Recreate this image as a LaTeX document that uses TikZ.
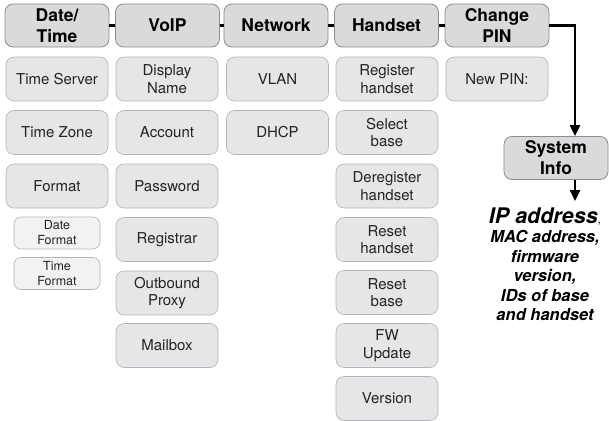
\documentclass[tikz,border=0pt]{standalone}
\usepackage{fontspec}
\setmainfont{TeX Gyre Heros}
\usetikzlibrary{arrows.meta}
\definecolor{hdrfill}{RGB}{218,218,221}
\definecolor{hdrdraw}{RGB}{140,140,144}
\definecolor{subfill}{RGB}{230,230,233}
\definecolor{subdraw}{RGB}{180,180,184}
\definecolor{smfill}{RGB}{242,242,244}
\definecolor{txt}{RGB}{35,35,35}
\begin{document}
\begin{tikzpicture}[x=1pt,y=-1pt,
  hdr/.style={draw=hdrdraw,fill=hdrfill,rounded corners=8pt,line width=0.8pt,
    minimum width=104pt,minimum height=43pt,align=center,inner sep=1pt,
    font=\fontsize{17.5}{21}\selectfont\bfseries,text=black},
  sub/.style={draw=subdraw,fill=subfill,rounded corners=8pt,line width=0.6pt,
    minimum width=102pt,minimum height=44pt,align=center,inner sep=1pt,
    font=\fontsize{15}{17.5}\selectfont,text=txt},
  small/.style={draw=subdraw,fill=smfill,rounded corners=7pt,line width=0.6pt,
    minimum width=86pt,minimum height=32pt,align=center,inner sep=0pt,
    font=\fontsize{12.5}{15}\selectfont,text=txt},
  link/.style={line width=2.8pt,black},
  arr/.style={line width=2.4pt,black,-{Triangle[length=11pt,width=10pt]}},
  info/.style={align=center,font=\fontsize{16.5}{19.5}\selectfont\bfseries\itshape,text=black}
]
\useasboundingbox (0,0) rectangle (609,420);
% headers
\node[hdr] (dt) at (57,25.5) {Date/\\Time};
\node[hdr] (voip) at (167.5,25.5) {VoIP};
\node[hdr] (net) at (276,25.5) {Network};
\node[hdr] (hs) at (386.5,25.5) {Handset};
\node[hdr] (pin) at (497,25.5) {Change\\PIN};
\node[hdr] (sys) at (556,158) {System\\Info};
\draw[link] (dt) -- (voip);
\draw[link] (voip) -- (net);
\draw[link] (net) -- (hs);
\draw[link] (hs) -- (pin);
\coordinate (bend) at (575,25.5);
\draw[arr] (pin.east) -- (bend) -- (sys.north -| bend);
\coordinate (infotop) at (575,201);
\draw[arr] (sys.south -| infotop) -- (infotop);
% Date/Time column
\node[sub] (ts) at (57,79) {Time Server};
\node[sub] (tz) at (57,132.5) {Time Zone};
\node[sub] (fmt) at (57,186) {Format};
\node[small] (df) at (57,233) {Date\\Format};
\node[small] (tf) at (57,273.5) {Time\\Format};
% VoIP column
\node[sub] (dn) at (167,79) {Display\\Name};
\node[sub] (acc) at (167,132.5) {Account};
\node[sub] (pw) at (167,186) {Password};
\node[sub] (reg) at (167,239.5) {Registrar};
\node[sub] (ob) at (167,293) {Outbound\\Proxy};
\node[sub] (mb) at (167,345.5) {Mailbox};
% Network column
\node[sub] (vlan) at (277.5,79) {VLAN};
\node[sub] (dhcp) at (277.5,132.5) {DHCP};
% Handset column
\node[sub] (rh) at (387,79) {Register\\handset};
\node[sub] (sb) at (387,132.5) {Select\\base};
\node[sub] (dh) at (387,186) {Deregister\\handset};
\node[sub] (rsh) at (387,239.5) {Reset\\handset};
\node[sub] (rsb) at (387,292.5) {Reset\\base};
\node[sub] (fw) at (387,345.5) {FW\\Update};
\node[sub] (ver) at (387,398.5) {Version};
% Change PIN column
\node[sub] (np) at (497,79) {New PIN:};
% info text
\node[info,anchor=north] (info) at (545,204) {{\fontsize{21.5}{22}\selectfont IP address}{\fontsize{12}{12}\selectfont\mdseries\upshape,}\\MAC address,\\firmware\\version,\\IDs of base\\and handset};
\end{tikzpicture}
\end{document}
